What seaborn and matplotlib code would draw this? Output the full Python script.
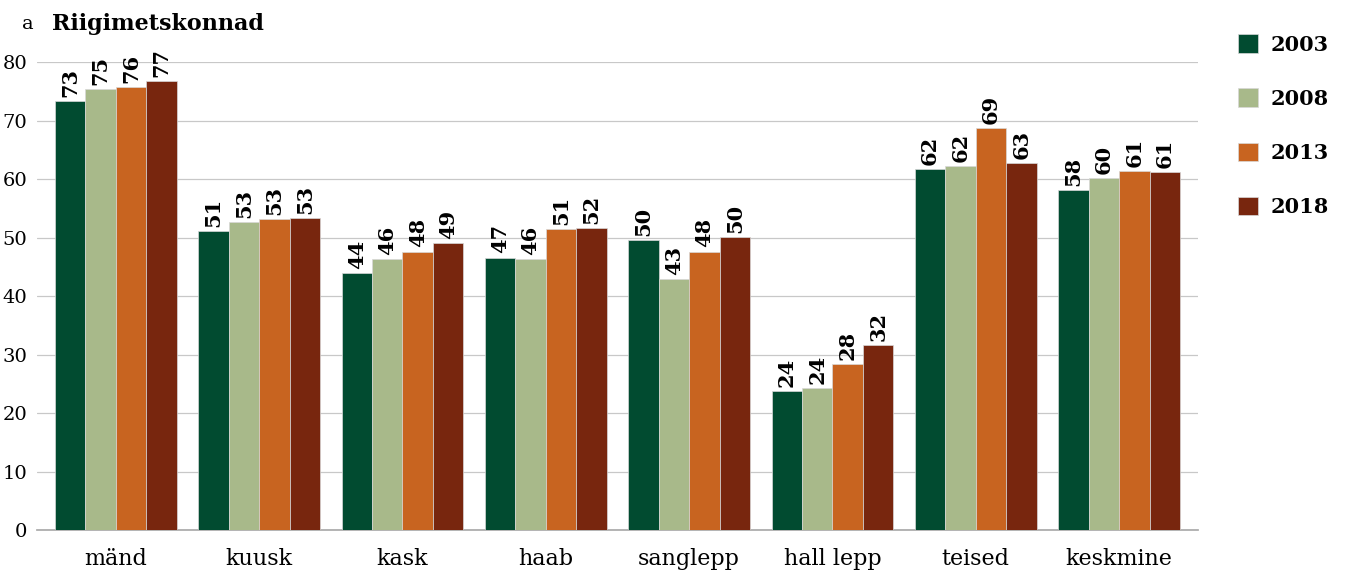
import matplotlib.pyplot as plt
import pandas as pd
import seaborn as sns

# andmed
liigid = ["mänd", "kuusk", "kask", "haab", "sanglepp", "hall lepp", "teised", "keskmine"]
aastad = ["2003", "2008", "2013", "2018"]
v2003 = [73.3, 51.1, 43.9, 46.6, 49.6, 23.8, 61.7, 58.1]
v2008 = [75.4, 52.6, 46.4, 46.4, 42.9, 24.3, 62.2, 60.2]
v2013 = [75.8, 53.2, 47.6, 51.4, 47.6, 28.4, 68.7, 61.4]
v2018 = [76.8, 53.4, 49.1, 51.6, 50.1, 31.6, 62.7, 61.2]
varvid = ["#014b30", "#a8b98a", "#c86420", "#78260e"]

rows = []
for aasta, vals in zip(aastad, [v2003, v2008, v2013, v2018]):
    for liik, v in zip(liigid, vals):
        rows.append({"liik": liik, "aasta": aasta, "vaartus": v})
df = pd.DataFrame(rows)

sns.set_theme(style="white")
plt.rcParams['font.family'] = ['DejaVu Serif', 'DejaVu Sans']
plt.rcParams['text.color'] = 'black'
plt.rcParams['xtick.color'] = 'black'
plt.rcParams['ytick.color'] = 'black'

fig = plt.figure(figsize=(13.46, 5.79), dpi=100)
ax = fig.add_axes([0.0275, 0.0846, 0.8625, 0.808])

sns.barplot(data=df, x="liik", y="vaartus", hue="aasta", palette=varvid, width=0.85,
            saturation=1, edgecolor="#d8d8d8", linewidth=0.5, ax=ax, errorbar=None, zorder=3)

for cont in ax.containers:
    ax.bar_label(cont, fmt="%.0f", rotation=90, padding=3, fontsize=15, fontweight="bold")

ax.set_ylim(0, 80)
ax.set_xlim(-0.55, 7.55)
ax.set_yticks(range(0, 81, 10))
ax.yaxis.grid(True, color="#c8c8c8", linewidth=0.9, zorder=0)
ax.set_axisbelow(True)
for s in ["top", "right", "left"]:
    ax.spines[s].set_visible(False)
ax.spines["bottom"].set_color("#aaaaaa")
ax.tick_params(axis="y", length=0, pad=7, labelsize=14)
ax.tick_params(axis="x", length=0, pad=13, labelsize=16)
ax.set_xlabel("")
ax.set_ylabel("")

ax.legend(loc="upper left", bbox_to_anchor=(1.018, 1.10), frameon=False,
          prop={"weight": "bold", "size": 15}, handlelength=1.0, handleheight=1.0,
          labelspacing=1.62, handletextpad=0.6)

fig.text(0.016, 0.958, "a", fontsize=14, va="center")
fig.text(0.039, 0.958, "Riigimetskonnad", fontsize=16, fontweight="bold", va="center")

plt.savefig("out.png", dpi=100)
